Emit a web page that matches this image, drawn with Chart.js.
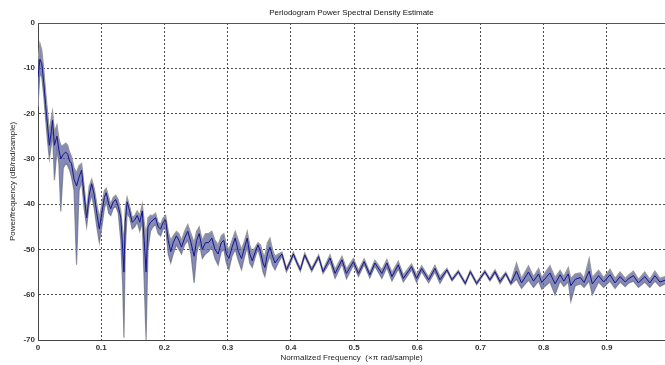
<!DOCTYPE html>
<html>
<head>
<meta charset="utf-8">
<script src="https://cdn.jsdelivr.net/npm/chart.js@4.4.1/dist/chart.umd.min.js"></script>
<style>
  html, body { margin: 0; padding: 0; background: #fff; }
  #grafica { display: block; }
</style>
</head>
<body>
<canvas id="grafica" width="665" height="365"></canvas>
<script>
// normalized frequency (x pi rad/sample)
const freq = [
  0.000,0.003,0.006,0.009,0.012,0.015,0.018,0.021,0.023,0.026,
  0.030,0.033,0.036,0.040,0.044,0.047,0.050,0.053,0.057,0.061,
  0.065,0.069,0.073,0.077,0.081,0.085,0.089,0.093,0.097,0.101,
  0.105,0.108,0.112,0.115,0.119,0.123,0.127,0.131,0.134,0.136,
  0.138,0.141,0.145,0.149,0.153,0.157,0.161,0.165,0.168,0.171,
  0.174,0.178,0.182,0.186,0.190,0.194,0.198,0.202,0.206,0.210,
  0.214,0.219,0.223,0.227,0.232,0.237,0.242,0.247,0.251,0.255,
  0.260,0.265,0.270,0.275,0.280,0.285,0.290,0.294,0.298,0.302,
  0.307,0.312,0.317,0.322,0.327,0.331,0.335,0.339,0.344,0.348,
  0.352,0.356,0.359,0.363,0.367,0.371,0.375,0.380,0.386,0.393,
  0.398,0.404,0.410,0.415,0.422,0.433,0.444,0.451,0.462,0.470,
  0.481,0.488,0.499,0.507,0.516,0.525,0.533,0.544,0.552,0.560,
  0.570,0.578,0.591,0.599,0.607,0.618,0.628,0.636,0.647,0.655,
  0.665,0.676,0.684,0.694,0.707,0.715,0.723,0.731,0.740,0.748,
  0.757,0.765,0.776,0.784,0.792,0.797,0.810,0.818,0.826,0.832,
  0.839,0.843,0.850,0.858,0.864,0.872,0.877,0.887,0.895,0.905,
  0.913,0.921,0.929,0.935,0.942,0.950,0.960,0.968,0.976,0.984,
  0.992
];

// upper gray trace (dB/rad/sample)
const psdHigh = [
  -8,-4.5,-6,-10,-15,-19.5,-24,-21,-19.5,-24,
  -22.5,-25.5,-27,-27,-26.5,-27,-28.5,-29.5,-32,-33,
  -31.5,-31,-36,-41.5,-36,-34.5,-36.5,-40,-43,-40,
  -37,-36.5,-38.5,-40,-38.5,-38,-39,-41.5,-46,-48,
  -41,-38.5,-40.5,-43,-42.5,-41.5,-42.5,-40,-44,-47,
  -43,-42.5,-42.5,-42,-44,-44.5,-43,-42.5,-46,-48,
  -47,-46,-46.5,-48,-46,-44.5,-46.5,-48.5,-46,-45,
  -48,-46.5,-46.5,-46,-48,-49,-47,-46.5,-49,-50,
  -48,-46,-48,-50,-48,-46,-49,-50.5,-49.5,-48.5,
  -49,-51,-51.5,-48.5,-47.5,-50,-51.5,-51,-50.6,-54.1,
  -52.6,-50.6,-52.6,-54.1,-50.8,-54.1,-51.2,-54.5,-51.2,-54.4,
  -51.5,-54.3,-52,-54.6,-52.1,-55,-52.4,-54.5,-52.2,-55.1,
  -52.6,-55.6,-53.2,-55.6,-53.6,-56.1,-53.5,-56,-54.2,-56.4,
  -54.6,-57.2,-54.6,-57.2,-54.6,-56.4,-54.5,-56.6,-55,-57.2,
  -53,-56.4,-53.6,-56,-54.2,-56.2,-53.6,-56.2,-54.6,-56,
  -54,-56.4,-55.4,-55.2,-56.4,-52,-56.2,-54.6,-56.2,-54.4,
  -56.4,-55,-56.4,-55.6,-54.8,-56.6,-55,-56.6,-54.8,-56.4,
  -56
];

// lower gray trace
const psdLow = [
  -18.5,-11,-12,-16,-21,-26,-30,-27,-24,-34.7,
  -28,-31,-41.6,-32,-31,-31.5,-32.5,-34,-37,-53.4,
  -37,-35,-41,-45,-40,-38,-41,-45,-48.5,-45,
  -41,-39.5,-42,-42.5,-41,-40.5,-42,-48,-58,-69.5,
  -50,-42,-43,-45.5,-45,-44,-46,-44,-57,-70,
  -50,-46,-45,-44.5,-46.5,-47,-45.5,-45.5,-51,-53,
  -51,-49,-50,-51,-49,-48,-51,-57.4,-51,-48.5,
  -52,-51,-50.5,-49.5,-52,-53.5,-50.5,-50,-53,-54.5,
  -51.5,-50,-52.5,-54.5,-51.5,-49.5,-53,-54,-51.5,-50,
  -52,-55,-56,-53,-51.5,-53.5,-54.5,-53,-51.5,-55,
  -53.6,-51.4,-53.4,-54.9,-51.6,-54.9,-52,-55.3,-52.8,-56.4,
  -53.2,-56.5,-53.5,-56,-53.4,-56.3,-53.7,-56.4,-54,-57,
  -54.3,-57.2,-54.5,-57.3,-54.9,-57.4,-55,-57.5,-54.8,-57,
  -55.2,-57.8,-55.2,-57.8,-55.2,-57,-55.3,-57.6,-55.6,-57.8,
  -56.6,-58.6,-56.8,-58.4,-57,-58.8,-57.2,-60,-57,-58.2,
  -57.2,-61.5,-58,-57.6,-58.4,-57,-60,-57.2,-58.4,-57,
  -58.6,-57.2,-58.2,-57.4,-57,-58.4,-57.2,-58.4,-57,-58.2,
  -57.6
];

// blue estimate in the middle of the band
const psdMid = [
  -12,-8,-9,-13,-18,-22.5,-27,-24,-21.5,-27,
  -25,-28,-30,-29,-28.5,-29,-30.5,-31,-34.5,-36,
  -34,-32.5,-38,-43,-38,-35.5,-38,-42,-45.5,-42,
  -38.5,-37.5,-40,-41,-39.5,-39,-40.5,-43,-50,-55,
  -44,-39.5,-41.5,-44,-43.5,-42.5,-44,-41.5,-48,-55,
  -45,-44,-43.5,-43,-45,-45.5,-44,-43.5,-48,-50.5,
  -48.5,-47,-48,-49.5,-47.5,-46,-48.5,-51.5,-48,-46.5,
  -50,-48.5,-48.5,-47.5,-50,-51,-48.5,-48,-51,-52,
  -49.5,-47.5,-50.5,-52,-49.5,-47.5,-51,-52.5,-50.5,-49,
  -50.5,-53,-54,-51,-49.5,-51.5,-53,-52,-51,-54.5,
  -53,-51,-53,-54.5,-51.2,-54.5,-51.6,-54.9,-51.9,-55.3,
  -52.3,-55.3,-52.7,-55.3,-52.7,-55.6,-53,-55.3,-53,-56,
  -53.4,-56.4,-53.8,-56.4,-54.2,-56.7,-54.2,-56.7,-54.5,-56.7,
  -54.9,-57.5,-54.9,-57.5,-54.9,-56.7,-54.9,-57.1,-55.3,-57.5,
  -54.8,-57.4,-55,-57,-55.4,-57.3,-55.2,-57.6,-55.6,-57,
  -55.4,-58,-56.6,-56.2,-57.3,-54.8,-57.6,-55.8,-57.2,-55.6,
  -57.4,-56,-57.2,-56.4,-55.8,-57.4,-56,-57.4,-55.8,-57.2,
  -56.8
];

const xTicks = [0, 0.1, 0.2, 0.3, 0.4, 0.5, 0.6, 0.7, 0.8, 0.9];
const yTicks = [0, -10, -20, -30, -40, -50, -60, -70];

let canvas = document.querySelector('#grafica');
let grafica = canvas.getContext('2d');

function puntos(serie){
  return freq.map((f, i) => ({x: f, y: serie[i]}));
}

// solid frame line on top of the plot box (matlab style)
const marco = {
  id: 'marco',
  afterDatasetsDraw(chart){
    let ctx = chart.ctx;
    let area = chart.chartArea;
    ctx.save();
    ctx.strokeStyle = '#555';
    ctx.lineWidth = 1;
    ctx.beginPath();
    ctx.moveTo(area.left, area.top + 0.5);
    ctx.lineTo(area.right, area.top + 0.5);
    ctx.stroke();
    ctx.restore();
  }
};

let rejilla = {
  color: 'rgba(30,30,30,0.8)',
  lineWidth: 1,
  drawTicks: false
};

let fuenteTicks = { family: 'Liberation Sans', size: 8, weight: 'bold' };
let fuenteTitulo = { family: 'Liberation Sans', size: 8, weight: 'normal' };

let chart = new Chart(grafica, {
  type: 'line',
  data: {
    datasets: [
      {
        label: 'upper',
        data: puntos(psdHigh),
        borderColor: '#999',
        borderWidth: 1.2,
        backgroundColor: 'rgba(92,100,158,0.75)',
        fill: '+1',
        pointRadius: 0,
        order: 1
      },
      {
        label: 'lower',
        data: puntos(psdLow),
        borderColor: '#999',
        borderWidth: 1.2,
        fill: false,
        pointRadius: 0,
        order: 1
      },
      {
        label: 'estimate',
        data: puntos(psdMid),
        borderColor: '#14148c',
        borderWidth: 1,
        fill: false,
        pointRadius: 0,
        order: 0
      }
    ]
  },
  options: {
    responsive: false,
    animation: false,
    devicePixelRatio: 1,
    layout: { padding: 0 },
    plugins: {
      legend: { display: false },
      tooltip: { enabled: false },
      title: {
        display: true,
        fullSize: false,
        text: 'Periodogram Power Spectral Density Estimate',
        color: '#111',
        font: fuenteTitulo,
        padding: { top: 8, bottom: 5.4 }
      }
    },
    scales: {
      x: {
        type: 'linear',
        min: 0,
        max: 0.992,
        afterBuildTicks: (axis) => { axis.ticks = xTicks.map(v => ({value: v})); },
        afterFit: (axis) => { axis.height = 25; },
        grid: rejilla,
        border: { display: true, color: '#444', width: 1, dash: [2, 2] },
        ticks: {
          color: '#333',
          padding: 3,
          maxRotation: 0,
          font: fuenteTicks,
          callback: (v) => String(v)
        },
        title: {
          display: true,
          text: 'Normalized Frequency  (\u00d7\u03c0 rad/sample)',
          color: '#222',
          font: fuenteTitulo,
          padding: { top: 0, bottom: 2 }
        }
      },
      y: {
        type: 'linear',
        min: -70,
        max: 0,
        afterBuildTicks: (axis) => { axis.ticks = yTicks.map(v => ({value: v})); },
        afterFit: (axis) => { axis.width = 38; },
        grid: rejilla,
        border: { display: true, color: '#444', width: 1, dash: [2, 2] },
        ticks: {
          color: '#333',
          padding: 3,
          font: fuenteTicks
        },
        title: {
          display: true,
          text: 'Power/frequency (dB/rad/sample)',
          color: '#222',
          font: fuenteTitulo,
          padding: { top: 8, bottom: 0 }
        }
      }
    }
  },
  plugins: [marco]
});
</script>
</body>
</html>
